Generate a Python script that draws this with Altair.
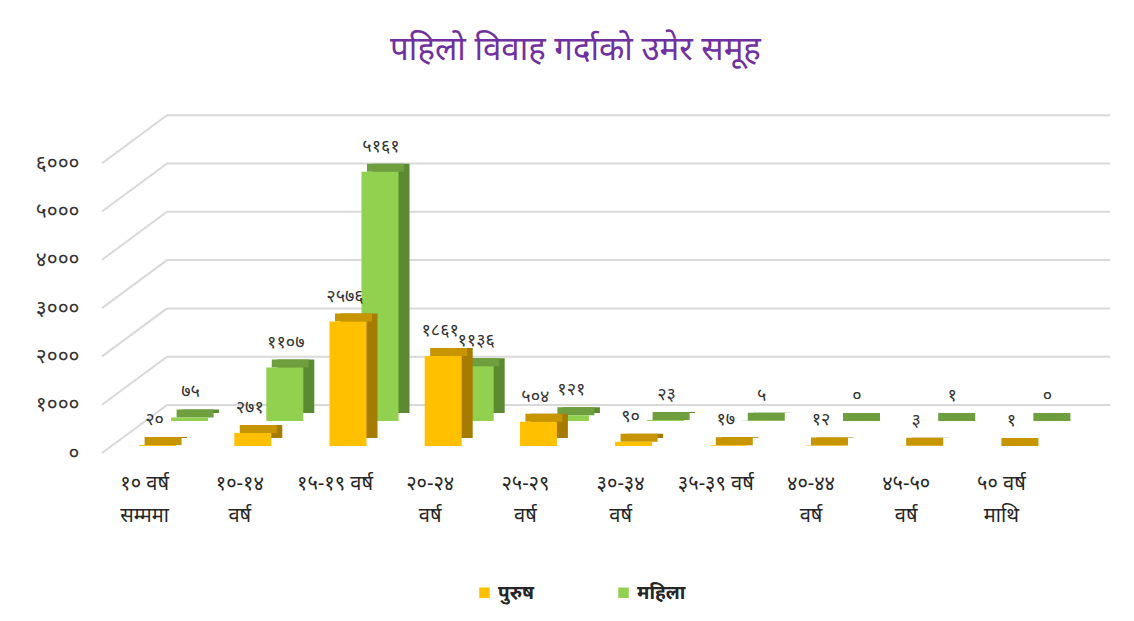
import altair as alt
import pandas as pd

# ---------------- data ----------------
categories = ["१० वर्ष|सम्ममा", "१०-१४|वर्ष", "१५-१९ वर्ष", "२०-२४|वर्ष", "२५-२९|वर्ष",
              "३०-३४|वर्ष", "३५-३९ वर्ष", "४०-४४|वर्ष", "४५-५०|वर्ष", "५० वर्ष|माथि"]
male = [20, 271, 2576, 1861, 504, 90, 17, 12, 3, 1]
female = [75, 1107, 5161, 1136, 121, 23, 5, 0, 1, 0]
series_names = ["पुरुष", "महिला"]
y_ticks = [0, 1000, 2000, 3000, 4000, 5000, 6000]
y_tick_labels = ["०", "१०००", "२०००", "३०००", "४०००", "५०००", "६०००"]
title_text = "पहिलो विवाह गर्दाको उमेर समूह"

DEV = str.maketrans("0123456789", "०१२३४५६७८९")

rows = []
for c, m, f in zip(categories, male, female):
    rows.append({"cat": c, "series": series_names[0], "value": m, "label": str(m).translate(DEV)})
    rows.append({"cat": c, "series": series_names[1], "value": f, "label": str(f).translate(DEV)})
df = pd.DataFrame(rows)
grid = pd.DataFrame({"v": y_ticks})

# ---------------- layout ----------------
W, H = 1013, 348
BAR_W = 37
DEPTH_X, DEPTH_Y = 11, 8
GRID_DX, GRID_DY = 65, 48

font = "Noto Sans"

x_scale = alt.Scale(domain=categories, range=[0, 952], paddingInner=0, paddingOuter=0)
y_scale = alt.Scale(domain=[0, 7205], nice=False, zero=True)

ylabel_expr = " : ".join(
    f"datum.value == {v} ? '{t}'" for v, t in zip(y_ticks, y_tick_labels)
) + " : ''"

x_axis = alt.Axis(labelExpr="split(datum.label, '|')", labelAngle=0, domain=False, ticks=False,
                  grid=False, labelPadding=20, labelFontSize=20, labelColor="#262626", labelFont=font,
                  labelLineHeight=32, title=None)
y_axis = alt.Axis(values=y_ticks, labelExpr=ylabel_expr, domain=False, ticks=False, grid=False,
                  labelPadding=18, labelFontSize=21, labelColor="#333333", labelFont=font, title=None)
legend = alt.Legend(orient="none", legendX=378, legendY=478, direction="horizontal", title=None,
                    symbolType="square", symbolSize=110, symbolStrokeWidth=0,
                    labelFontSize=19, labelFontWeight="bold", labelColor="#262626", labelFont=font,
                    labelOffset=4, columnPadding=80)
color_scale = alt.Scale(domain=series_names, range=["#FFC000", "#92D050"])


def X():
    return alt.X("cat:N", sort=categories, scale=x_scale, axis=x_axis)


def Y(field="value:Q"):
    return alt.Y(field, scale=y_scale, axis=y_axis)


base = alt.Chart(df)


def series_layers(name, floor, shift, top, side, label_dx):
    d = base.transform_filter(alt.datum.series == name)
    side_l = d.mark_bar(width=BAR_W, color=side, xOffset=shift + DEPTH_X,
                        yOffset=floor - DEPTH_Y, y2Offset=floor - DEPTH_Y).encode(
        x=X(), y=Y(), y2=alt.datum(0))
    top_l = d.mark_bar(width=BAR_W, color=top, xOffset=shift + DEPTH_X / 2,
                       yOffset=floor - DEPTH_Y, y2Offset=floor).encode(
        x=X(), y=Y(), y2="value:Q")
    front_l = d.mark_bar(width=BAR_W, xOffset=shift, yOffset=floor, y2Offset=floor).encode(
        x=X(), y=Y(), y2=alt.datum(0),
        color=alt.Color("series:N", scale=color_scale, legend=legend))
    text_l = d.mark_text(dx=label_dx, dy=floor - 25, fontSize=18, color="#333333", font=font,
                         baseline="middle").encode(
        x=X(), y=Y(), text="label:N")
    return [side_l, top_l, front_l, text_l]


diag = alt.Chart(grid).mark_rule(color="#D9D9D9", strokeWidth=2, y2Offset=-GRID_DY).encode(
    x=alt.value(5), x2=alt.value(5 + GRID_DX), y=Y("v:Q"), y2="v:Q")
horiz = alt.Chart(grid).mark_rule(color="#D9D9D9", strokeWidth=2, yOffset=-GRID_DY).encode(
    x=alt.value(5 + GRID_DX), x2=alt.value(W), y=Y("v:Q"))

layers = [diag, horiz]
layers += series_layers(series_names[1], -32, 45, "#6E9E3E", "#5C8A30", 46)
layers += series_layers(series_names[0], -7, 13, "#C69500", "#A67C00", 10)

chart = alt.layer(*layers).properties(
    width=W, height=H,
    title=alt.TitleParams(title_text, fontSize=33, color="#7030A0", fontWeight="normal", font=font,
                          anchor="middle", dx=-28, offset=38),
    padding={"left": 97, "top": 105, "right": 24, "bottom": 168},
    autosize=alt.AutoSizeParams(type="none"),
    background="white",
).configure_view(stroke=None)

chart.save("out.html", embed_options={"renderer": "svg", "actions": False})
